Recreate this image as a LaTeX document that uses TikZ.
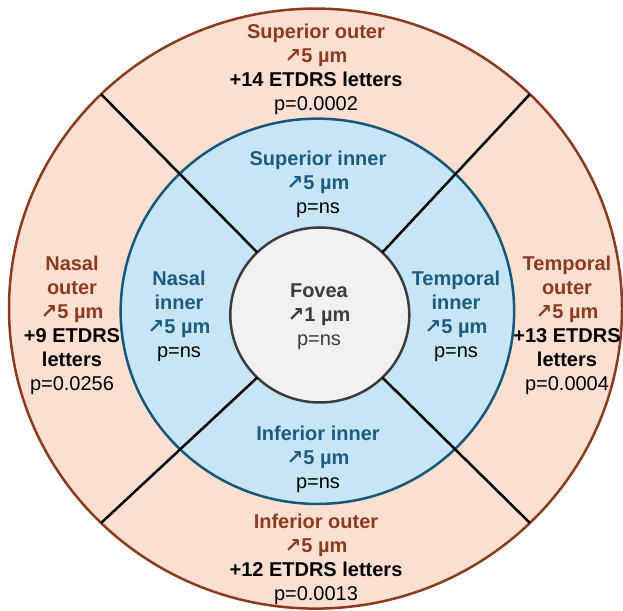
\documentclass[tikz,border=0pt]{standalone}
\usepackage{fontspec}
\usetikzlibrary{shapes.geometric}
\setmainfont{Liberation Sans}
\newfontfamily\arrowfont{DejaVu Sans}
\definecolor{peach}{HTML}{FBE0D2}
\definecolor{rimbrown}{HTML}{8B3B1F}
\definecolor{skyfill}{HTML}{C6E6F5}
\definecolor{rimblue}{HTML}{17587A}
\definecolor{textblue}{HTML}{1F5B80}
\definecolor{foveafill}{HTML}{F0F1F2}
\definecolor{foveagray}{HTML}{3C3C3C}
\newcommand{\incr}{{\arrowfont\bfseries\char"2197}}
\newcommand{\outtitle}[1]{\textcolor{rimbrown}{\textbf{#1}}}
\newcommand{\intitle}[1]{\textcolor{textblue}{\textbf{#1}}}

\begin{document}
\begin{tikzpicture}[x=1pt,y=1pt,>=latex,
    zone/.style={ellipse, inner sep=0pt, outer sep=0pt, line width=2.5pt},
    sector/.style={line width=2.5pt, black},
    lab/.style={align=center, font=\fontsize{20}{24}\selectfont}]
  \useasboundingbox (0,0) rectangle (623,610);
  \clip (0,0) rectangle (623,610);
  % rings
  \node[zone, fill=peach, draw=rimbrown, minimum width=613pt, minimum height=600pt] (outer) at (315.5,301.4) {};
  \node[zone, fill=skyfill, draw=rimblue, minimum width=393.5pt, minimum height=385.3pt] (inner) at (317.4,298.7) {};
  \node[zone, fill=foveafill, draw=foveagray, minimum width=179pt, minimum height=175pt] (fovea) at (319.8,295) {};
  \foreach \a in {45,135,225,315}
    \draw[sector] (fovea.\a) -- (outer.\a);
  % outer labels
  \node[lab] (supout) at (316,541) {\outtitle{Superior outer}\\ \outtitle{\incr5 µm}\\ \textbf{+14 ETDRS letters}\\ p=0.0002};
  \node[lab] (nasout) at (72,285) {\outtitle{Nasal}\\ \outtitle{outer}\\ \outtitle{\incr5 µm}\\ \textbf{+9 ETDRS}\\ \textbf{letters}\\ p=0.0256};
  \node[lab] (tempout) at (567,285) {\outtitle{Temporal}\\ \outtitle{outer}\\ \outtitle{\incr5 µm}\\ \textbf{+13 ETDRS}\\ \textbf{letters}\\ p=0.0004};
  \node[lab] (infout) at (316,51) {\outtitle{Inferior outer}\\ \outtitle{\incr5 µm}\\ \textbf{+12 ETDRS letters}\\ p=0.0013};
  % inner labels
  \node[lab] (supin) at (318,426) {\intitle{Superior inner}\\ \intitle{\incr5 µm}\\ p=ns};
  \node[lab] (nasin) at (179,294) {\intitle{Nasal}\\ \intitle{inner}\\ \intitle{\incr5 µm}\\ p=ns};
  \node[lab] (tempin) at (456,294) {\intitle{Temporal}\\ \intitle{inner}\\ \intitle{\incr5 µm}\\ p=ns};
  \node[lab] (infin) at (318,151) {\intitle{Inferior inner}\\ \intitle{\incr5 µm}\\ p=ns};
  % fovea
  \node[lab, text=foveagray] (fovlab) at (319,293) {\textbf{Fovea}\\ \textbf{\incr1 µm}\\ p=ns};
\end{tikzpicture}
\end{document}
